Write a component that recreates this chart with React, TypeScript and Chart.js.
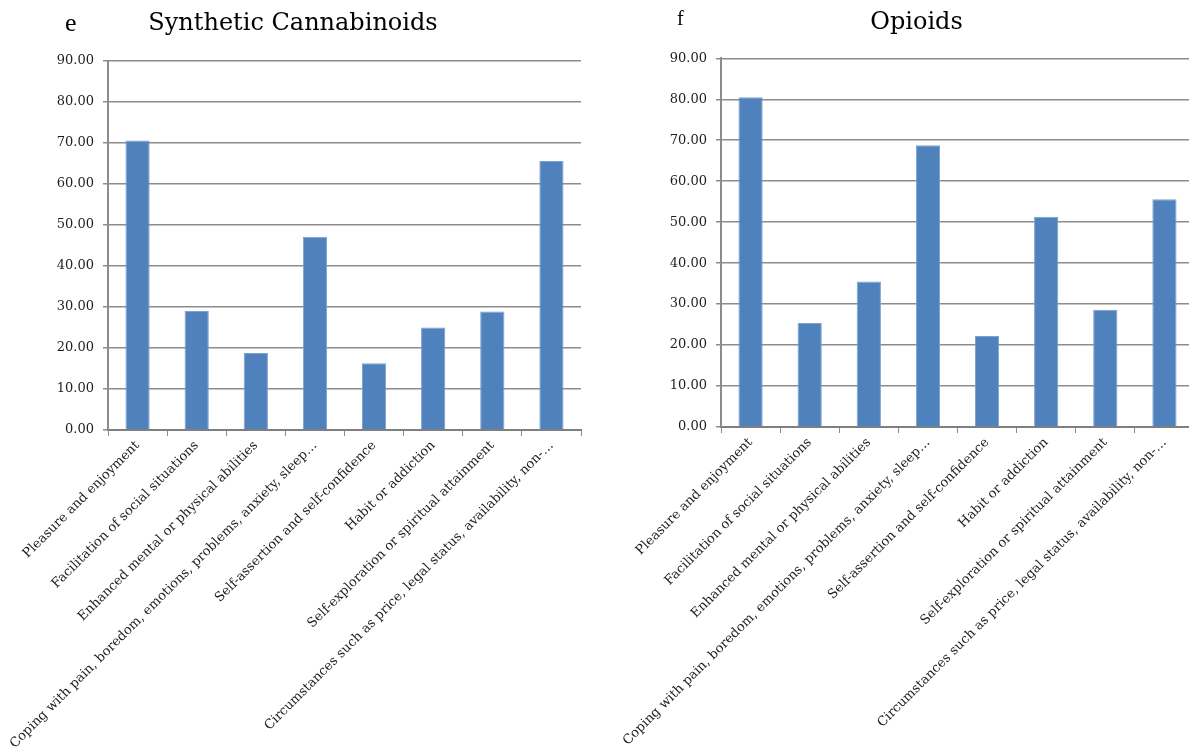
import React, { useEffect, useRef } from "react";
import { Chart, registerables } from "chart.js";

Chart.register(...registerables);

const CATEGORIES = [
  "Pleasure and enjoyment",
  "Facilitation of social situations",
  "Enhanced mental or physical abilities",
  "Coping with pain, boredom, emotions, problems, anxiety, sleep…",
  "Self-assertion and self-confidence",
  "Habit or addiction",
  "Self-exploration or spiritual attainment",
  "Circumstances such as price, legal status, availability, non-…",
];

const SYNTHETIC_CANNABINOIDS = [70.6, 29.0, 18.8, 47.1, 16.3, 25.0, 28.9, 65.6];
const OPIOIDS = [80.5, 25.4, 35.5, 68.8, 22.2, 51.3, 28.6, 55.6];
const Y_TICKS = [0, 10, 20, 30, 40, 50, 60, 70, 80, 90];

const BAR_COLOR = "#4F81BD";
const GRID_COLOR = "#8c8c8c";
const TEXT_COLOR = "#1e1e1e";

type PanelProps = {
  title: string;
  values: number[];
  left: number;
  width: number;
  padLeft: number;
  padRight: number;
  yWidth: number;
  xHeight: number;
  titlePadTop: number;
  titlePadBottom: number;
};

function BarPanel(p: PanelProps) {
  const ref = useRef<HTMLCanvasElement | null>(null);
  useEffect(() => {
    if (!ref.current) return;
    const chart = new Chart(ref.current, {
      type: "bar",
      data: {
        labels: CATEGORIES,
        datasets: [
          {
            data: p.values,
            backgroundColor: BAR_COLOR,
            borderColor: "#7a9fd0",
            borderWidth: 1,
            categoryPercentage: 1,
            barPercentage: 0.41,
          },
        ],
      },
      options: {
        animation: false,
        responsive: false,
        maintainAspectRatio: false,
        layout: {
          padding: { left: p.padLeft, right: p.padRight, top: 0, bottom: 0 },
        },
        plugins: {
          legend: { display: false },
          tooltip: { enabled: false },
          title: {
            display: true,
            text: p.title,
            color: "#000",
            font: { family: "DejaVu Serif", size: 24, weight: "normal", lineHeight: 1.2 },
            padding: { top: p.titlePadTop, bottom: p.titlePadBottom },
          },
        },
        scales: {
          x: {
            offset: true,
            grid: {
              offset: true,
              drawOnChartArea: false,
              drawTicks: true,
              tickLength: 6,
              color: GRID_COLOR,
              lineWidth: 1,
            },
            border: { display: true, color: "#7f7f7f", width: 2 },
            ticks: {
              autoSkip: false,
              minRotation: 45,
              maxRotation: 45,
              padding: 2,
              color: TEXT_COLOR,
              font: { family: "DejaVu Serif", size: 13 },
            },
            afterFit: (s: any) => {
              s.height = p.xHeight;
            },
          },
          y: {
            min: 0,
            max: 90,
            afterBuildTicks: (s: any) => {
              s.ticks = Y_TICKS.map((v) => ({ value: v }));
            },
            grid: {
              color: GRID_COLOR,
              lineWidth: 1.5,
              drawTicks: true,
              tickLength: 5,
            },
            border: { display: true, color: GRID_COLOR, width: 2 },
            ticks: {
              padding: 9,
              color: TEXT_COLOR,
              font: { family: "DejaVu Serif", size: 13 },
              callback: (v: any) => Number(v).toFixed(2),
            },
            afterFit: (s: any) => {
              s.width = p.yWidth;
            },
          },
        },
      },
    } as any);
    return () => chart.destroy();
  }, []);
  return (
    <canvas
      ref={ref}
      width={p.width}
      height={751}
      style={{ position: "absolute", left: p.left, top: 0, width: p.width, height: 751 }}
    />
  );
}

export default function App() {
  return (
    <div
      style={{
        position: "absolute",
        left: 0,
        top: 0,
        width: 1189,
        height: 751,
        overflow: "hidden",
        background: "#fff",
      }}
    >
      <BarPanel
        title="Synthetic Cannabinoids"
        values={SYNTHETIC_CANNABINOIDS}
        left={0}
        width={595}
        padLeft={5}
        padRight={14}
        yWidth={103}
        xHeight={321}
        titlePadTop={9}
        titlePadBottom={23}
      />
      <BarPanel
        title="Opioids"
        values={OPIOIDS}
        left={613}
        width={610}
        padLeft={26}
        padRight={29}
        yWidth={82}
        xHeight={324}
        titlePadTop={8}
        titlePadBottom={21.5}
      />
      <span
        style={{
          position: "absolute",
          left: 65,
          top: 10,
          fontFamily: "Liberation Serif",
          fontSize: 26,
          lineHeight: 1,
          color: "#000",
        }}
      >
        e
      </span>
      <span
        style={{
          position: "absolute",
          left: 677,
          top: 8,
          fontFamily: "Liberation Serif",
          fontSize: 20,
          lineHeight: 1,
          color: "#000",
        }}
      >
        f
      </span>
    </div>
  );
}
